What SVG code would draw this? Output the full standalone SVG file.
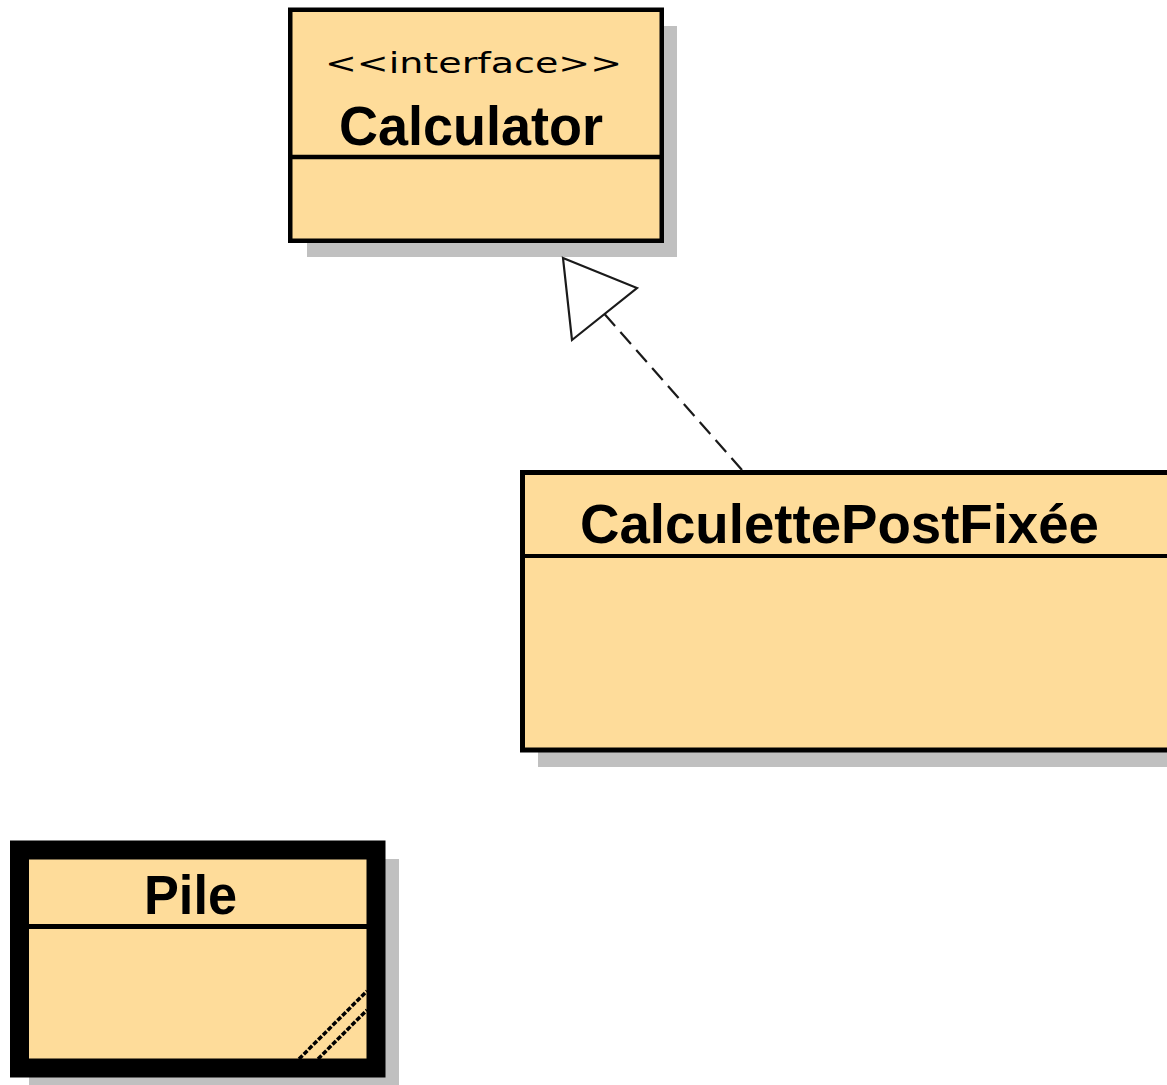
<svg xmlns="http://www.w3.org/2000/svg" width="1167" height="1085" viewBox="0 0 1167 1085">
  <style>
    .shadow { fill: #c0c0c0; }
    .box { fill: #fedc9a; stroke: #000; }
    .sep { stroke: #000; }
    .name { font-family: "Liberation Sans", Arial, sans-serif; font-weight: bold; font-size: 55px; fill: #000; }
    .stereo { font-family: "DejaVu Sans", sans-serif; font-size: 29px; fill: #000; }
    .conn { fill: none; stroke: #1a1a1a; stroke-width: 2.2; }
  </style>
  <rect width="1167" height="1085" fill="#fff"/>

  <!-- interface Calculator -->
  <g id="calculator">
    <rect class="shadow" x="307" y="26" width="370" height="231"/>
    <rect class="box" x="290.25" y="9.75" width="371.5" height="231" stroke-width="4.5"/>
    <line class="sep" x1="292" y1="157" x2="660" y2="157" stroke-width="4.5"/>
    <text class="stereo" x="325" y="73" textLength="297" lengthAdjust="spacingAndGlyphs">&lt;&lt;interface&gt;&gt;</text>
    <text class="name" x="339" y="145" textLength="264" lengthAdjust="spacingAndGlyphs">Calculator</text>
  </g>

  <!-- class CalculettePostFixée -->
  <g id="calculette">
    <rect class="shadow" x="538" y="488" width="700" height="279"/>
    <rect class="box" x="522.5" y="472.5" width="700" height="277.5" stroke-width="5"/>
    <line class="sep" x1="525" y1="556" x2="1167" y2="556" stroke-width="4"/>
    <text class="name" x="580" y="543" textLength="519" lengthAdjust="spacingAndGlyphs">CalculettePostFixée</text>
  </g>

  <!-- class Pile (thick border, hatched corner) -->
  <g id="pile">
    <rect class="shadow" x="29" y="859" width="370" height="232"/>
    <rect class="box" x="19.5" y="850" width="356.5" height="218" stroke-width="19"/>
    <line class="sep" x1="29" y1="926.5" x2="367" y2="926.5" stroke-width="5"/>
    <text class="name" x="144" y="914" textLength="93" lengthAdjust="spacingAndGlyphs">Pile</text>
    <g stroke="#000" stroke-width="3.5" stroke-dasharray="5 1.8">
      <line x1="299" y1="1059" x2="367" y2="991"/>
      <line x1="318" y1="1059" x2="367" y2="1010"/>
    </g>
  </g>

  <!-- realization: CalculettePostFixée implements Calculator -->
  <g id="connectors">
    <line class="conn" x1="604.5" y1="314" x2="742" y2="470" stroke-dasharray="16 8"/>
    <polygon class="conn" points="563,258 637,288 572,340" fill="#fff"/>
  </g>
</svg>
